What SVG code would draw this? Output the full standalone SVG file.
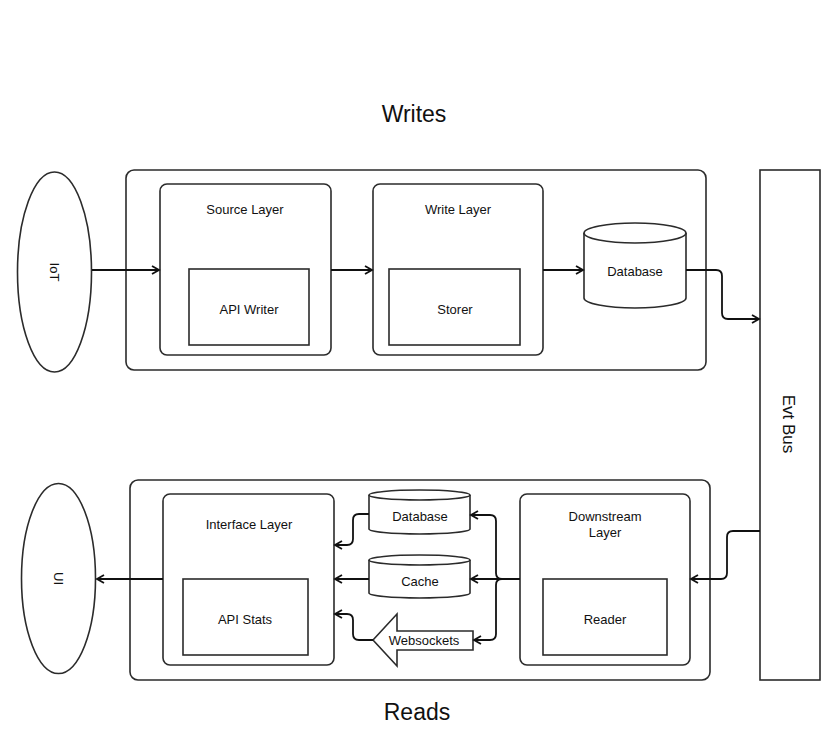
<svg xmlns="http://www.w3.org/2000/svg" width="840" height="747" viewBox="0 0 840 747">
<defs>
<style>
.s{fill:#fff;stroke:#2b2b2b;stroke-width:1.6}
.t{font-family:"Liberation Sans",Arial,sans-serif;font-size:13px;fill:#111;text-anchor:middle}
.b{font-size:17px}
.h{font-family:"Liberation Sans",Arial,sans-serif;font-size:23px;fill:#111;text-anchor:middle}
.c{fill:none;stroke:#111;stroke-width:1.8}
</style>
<marker id="a" markerWidth="10" markerHeight="10" refX="8" refY="5" orient="auto" markerUnits="userSpaceOnUse">
<path d="M1,1 L8,5 L1,9" fill="none" stroke="#111" stroke-width="1.8"/>
</marker>
</defs>
<rect width="840" height="747" fill="#fff"/>
<text class="h" x="414" y="122">Writes</text>
<text class="h" x="417" y="720">Reads</text>
<g id="writes-container"><rect class="s" x="126" y="170" width="580" height="200" rx="8"/></g>
<g id="reads-container"><rect class="s" x="130" y="480" width="580" height="200" rx="8"/></g>
<g id="iot"><ellipse class="s" cx="54.5" cy="272" rx="37" ry="100"/><text class="t" transform="translate(54.5,272) rotate(90)" y="5">IoT</text></g>
<g id="source-layer"><rect class="s" x="160" y="184" width="171" height="171" rx="7"/><text class="t" x="245" y="214">Source Layer</text></g>
<g id="api-writer"><rect class="s" x="189" y="269" width="120" height="76"/><text class="t" x="249" y="314">API Writer</text></g>
<g id="write-layer"><rect class="s" x="373" y="184" width="170" height="171" rx="7"/><text class="t" x="458" y="214">Write Layer</text></g>
<g id="storer"><rect class="s" x="389" y="269" width="131" height="76"/><text class="t" x="455" y="314">Storer</text></g>
<g id="database-w"><path class="s" d="M584,233 A51,10 0 0 1 686,233 V298 A51,10 0 0 1 584,298 Z"/><path class="s" fill="none" d="M584,233 A51,10 0 0 0 686,233"/><text class="t" x="635" y="276">Database</text></g>
<g id="evt-bus"><rect class="s" x="760" y="170" width="60" height="510"/><text class="t b" transform="translate(789,424) rotate(90)" y="6">Evt Bus</text></g>
<g id="ui"><ellipse class="s" cx="58.5" cy="578.5" rx="37" ry="95"/><text class="t" transform="translate(58.5,578.5) rotate(90)" y="5">UI</text></g>
<g id="interface-layer"><rect class="s" x="163" y="494" width="171" height="171" rx="7"/><text class="t" x="249" y="529">Interface Layer</text></g>
<g id="api-stats"><rect class="s" x="183" y="579" width="125" height="76"/><text class="t" x="245" y="624">API Stats</text></g>
<g id="database-r"><path class="s" d="M369,495 A50.5,5 0 0 1 470,495 V529 A50.5,5 0 0 1 369,529 Z"/><path class="s" fill="none" d="M369,495 A50.5,5 0 0 0 470,495"/><text class="t" x="420" y="521">Database</text></g>
<g id="cache"><path class="s" d="M369,560 A50.5,5 0 0 1 470,560 V593 A50.5,5 0 0 1 369,593 Z"/><path class="s" fill="none" d="M369,560 A50.5,5 0 0 0 470,560"/><text class="t" x="420" y="586">Cache</text></g>
<g id="websockets"><polygon class="s" points="373,640 397,614 397,631 473,631 473,650 397,650 397,666"/><text class="t" x="424" y="645">Websockets</text></g>
<g id="downstream-layer"><rect class="s" x="520" y="494" width="170" height="171" rx="7"/><text class="t" x="605" y="521">Downstream</text><text class="t" x="605" y="537">Layer</text></g>
<g id="reader"><rect class="s" x="543" y="579" width="124" height="76"/><text class="t" x="605" y="624">Reader</text></g>
<g id="connectors">
<path class="c" d="M92,270 H159" marker-end="url(#a)"/>
<path class="c" d="M331,270 H372" marker-end="url(#a)"/>
<path class="c" d="M543,270 H583" marker-end="url(#a)"/>
<path class="c" d="M686,270 H716 Q722,270 722,276 V313 Q722,319 728,319 H759" marker-end="url(#a)"/>
<path class="c" d="M760,531 H733 Q727,531 727,537 V573 Q727,579 721,579 H691" marker-end="url(#a)"/>
<path class="c" d="M520,579 H471" marker-end="url(#a)"/>
<path class="c" d="M520,579 H502 Q496,579 496,573 V521 Q496,515 490,515 H471" marker-end="url(#a)"/>
<path class="c" d="M520,579 H502 Q496,579 496,585 V634 Q496,640 490,640 H474" marker-end="url(#a)"/>
<path class="c" d="M369,514 H359 Q353,514 353,520 V539 Q353,545 347,545 H335" marker-end="url(#a)"/>
<path class="c" d="M369,579 H335" marker-end="url(#a)"/>
<path class="c" d="M373,640 H359 Q353,640 353,634 V620 Q353,614 347,614 H335" marker-end="url(#a)"/>
<path class="c" d="M163,579 H97" marker-end="url(#a)"/>
</g>
</svg>
